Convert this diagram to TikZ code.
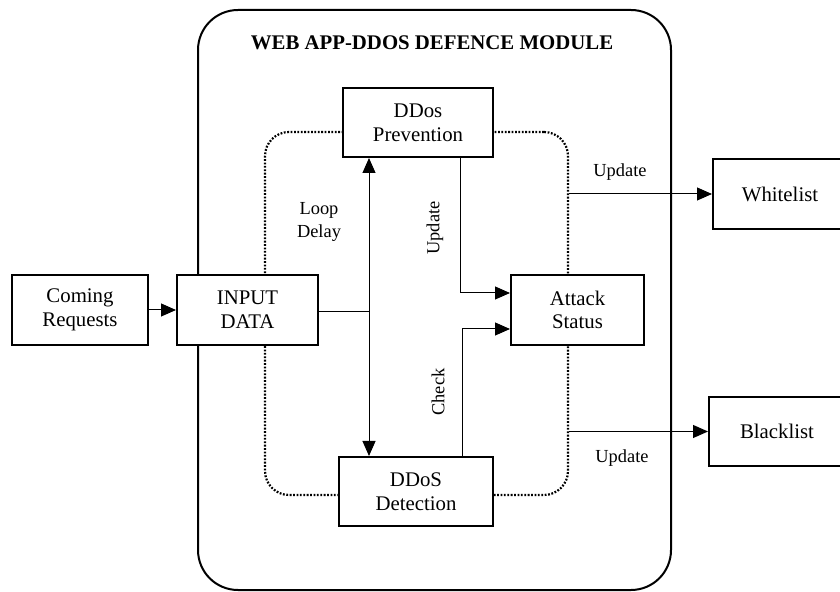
\documentclass[tikz,border=0pt]{standalone}
\usepackage{fontspec}
\setmainfont{Liberation Serif}
\usetikzlibrary{arrows.meta}

\begin{document}
\begin{tikzpicture}[x=0.5pt, y=-0.5pt,
        font=\fontsize{10.4}{11.8}\selectfont,
        box/.style={draw, line width=1pt, fill=white, align=center, inner sep=0pt, minimum height=35pt},
        tag/.style={font=\fontsize{9.2}{11.5}\selectfont, align=center},
        link/.style={line width=0.5pt},
        arr/.style={link, -{Triangle[length=7.5pt,width=6.5pt]}}]
    \useasboundingbox (0,0) rectangle (840,592);
    % module frame and loop
    \node[draw, line width=1pt, rounded corners=20pt, minimum width=236.5pt, minimum height=290pt] (module) at (434.5,300) {};
    \node[font=\fontsize{10.4}{12}\selectfont\bfseries] (title) at (432,43) {WEB APP-DDOS DEFENCE MODULE};
    \node[draw, line width=1.1pt, dash pattern=on 0.9pt off 0.8pt, rounded corners=12pt, minimum width=151.5pt, minimum height=181.5pt] (loop) at (416.5,313.5) {};
    % boxes
    \node[box, minimum width=68pt] (req) at (80,310) {Coming\\Requests};
    \node[box, minimum width=70.5pt] (input) at (247.5,310) {INPUT\\DATA};
    \node[box, minimum width=75pt, minimum height=34.5pt] (prev) at (418,122.5) {DDos\\Prevention};
    \node[box, minimum width=77pt, minimum height=34.5pt] (det) at (416,491.5) {DDoS\\Detection};
    \node[box, minimum width=66.5pt] (status) at (577.5,310) {Attack\\Status};
    \node[box, minimum width=67pt] (white) at (780,194) {Whitelist};
    \node[box, minimum width=68pt, minimum height=34.5pt] (black) at (777,431.5) {Blacklist};
    % connectors
    \coordinate (fork) at (369,312);
    \draw[arr] (req) -- (input);
    \draw[link] (input.east |- fork) -- (fork);
    \draw[arr] (fork) -- (prev.south -| fork);
    \draw[arr] (fork) -- (det.north -| fork);
    \draw[arr] ([xshift=21pt]prev.south) |- ([yshift=8.5pt]status.west);
    \draw[arr] ([xshift=23pt]det.north) |- ([yshift=-9.5pt]status.west);
    \draw[arr] (loop.east |- white) -- (white);
    \draw[arr] (loop.east |- black) -- (black);
    % labels
    \node[tag] (delay) at (319,222) {Loop\\Delay};
    \node[tag, rotate=90] (upd) at (435,228) {Update};
    \node[tag, rotate=90] (chk) at (438,392) {Check};
    \node[tag] (updw) at (620,172) {Update};
    \node[tag] (updb) at (622,458) {Update};
\end{tikzpicture}
\end{document}
